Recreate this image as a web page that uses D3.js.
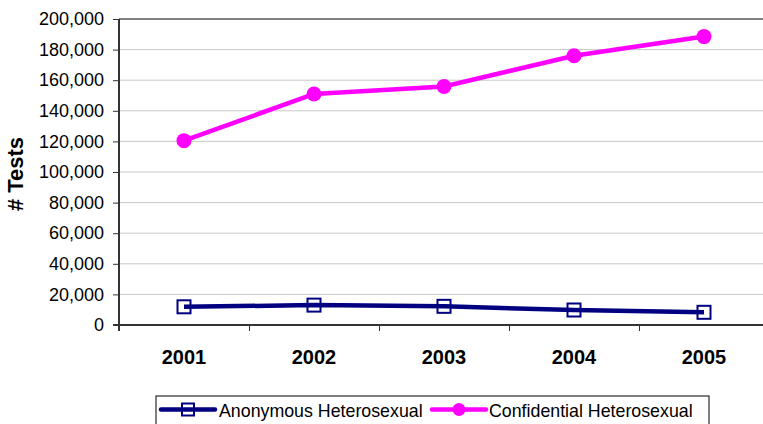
<!DOCTYPE html>
<html><head><meta charset="utf-8">
<script src="https://cdn.jsdelivr.net/npm/d3@7"></script>
<style>body{margin:0;background:#fff}svg{display:block;font-family:Arial,"Liberation Sans",sans-serif}</style>
</head><body><svg id="c" width="763" height="424"></svg>
<script>
const years = ["2001","2002","2003","2004","2005"];
const anonymous = [11900, 13000, 12200, 9800, 8300];
const confidential = [120500, 151000, 155900, 176000, 188500];
const yTicks = [0,20000,40000,60000,80000,100000,120000,140000,160000,180000,200000];
const seriesNames = ["Anonymous Heterosexual","Confidential Heterosexual"];

const FONT = "Arial,'Liberation Sans',sans-serif";
const svg = d3.select("#c");
const L=119, R=769, T=19, B=325;
const x = d3.scaleBand().domain(years).range([L,R]);
const y = d3.scaleLinear().domain([0,200000]).range([B,T]);
const cx = d => x(d)+x.bandwidth()/2;

// gridlines
svg.append("g").selectAll("line").data(yTicks.filter(v=>v>0)).join("line")
  .attr("x1",L).attr("x2",R).attr("y1",d=>y(d)).attr("y2",d=>y(d))
  .attr("stroke",d=>d===200000?"#808080":"#c8c8c8").attr("stroke-width",d=>d===200000?2:1);

// y axis
const ya = svg.append("g").attr("transform",`translate(${L},0)`)
  .call(d3.axisLeft(y).tickValues(yTicks).tickFormat(d3.format(",")).tickSize(6).tickPadding(9));
ya.select(".domain").remove();
ya.selectAll(".tick line").attr("stroke","#333");
ya.selectAll("text").attr("font-size",18).attr("fill","#000").attr("font-family",FONT);

// x axis
const xa = svg.append("g").attr("transform",`translate(0,${B})`)
  .call(d3.axisBottom(x).tickSize(0));
xa.select(".domain").remove();
xa.selectAll(".tick line").remove();
xa.selectAll("text").attr("y",39).attr("dy",0).attr("font-size",20).attr("font-weight","bold").attr("fill","#000").attr("font-family",FONT);
// category boundary ticks
svg.append("g").selectAll("line").data(years.slice(1)).join("line")
  .attr("x1",d=>Math.round(x(d))+0.5).attr("x2",d=>Math.round(x(d))+0.5).attr("y1",B).attr("y2",B+6)
  .attr("stroke","#333");

// axis lines
svg.append("line").attr("x1",L).attr("x2",L).attr("y1",T).attr("y2",B+6).attr("stroke","#333").attr("stroke-width",2);
svg.append("line").attr("x1",L-6).attr("x2",R).attr("y1",B).attr("y2",B).attr("stroke","#333").attr("stroke-width",2);

// y title
svg.append("text").attr("transform",`translate(23,${174}) rotate(-90)`)
  .attr("text-anchor","middle").attr("font-size",22).attr("font-weight","bold").attr("font-family",FONT).text("# Tests");

const line = d3.line().x((d,i)=>cx(years[i])).y(d=>y(d));
// confidential
svg.append("path").datum(confidential).attr("d",line).attr("fill","none").attr("stroke","#ff00ff").attr("stroke-width",4.5);
svg.append("g").selectAll("circle").data(confidential).join("circle")
  .attr("cx",(d,i)=>cx(years[i])).attr("cy",d=>y(d)).attr("r",7.5).attr("fill","#ff00ff");
// anonymous
svg.append("path").datum(anonymous).attr("d",line).attr("fill","none").attr("stroke","#000080").attr("stroke-width",4.5);
svg.append("g").selectAll("rect").data(anonymous).join("rect")
  .attr("x",(d,i)=>cx(years[i])-6.5).attr("y",d=>y(d)-6.5).attr("width",13).attr("height",13)
  .attr("fill","none").attr("stroke","#000080").attr("stroke-width",2);

// legend
const lg = svg.append("g");
lg.append("rect").attr("x",156).attr("y",396).attr("width",553).attr("height",40).attr("fill","#fff").attr("stroke","#000").attr("stroke-width",1);
const items = [
  {name:seriesNames[0], x1:161, x2:215, tx:219, color:"#000080", m:"sq"},
  {name:seriesNames[1], x1:432, x2:486, tx:489, color:"#ff00ff", m:"ci"}
];
items.forEach(it=>{
  const my=409.5;
  lg.append("line").attr("x1",it.x1).attr("x2",it.x2).attr("y1",my).attr("y2",my).attr("stroke",it.color).attr("stroke-width",4.5).attr("stroke-linecap","round");
  const mx=(it.x1+it.x2)/2;
  if(it.m==="sq") lg.append("rect").attr("x",mx-6).attr("y",my-6).attr("width",12).attr("height",12).attr("fill","none").attr("stroke",it.color).attr("stroke-width",2);
  else lg.append("circle").attr("cx",mx).attr("cy",my).attr("r",6.5).attr("fill",it.color);
  lg.append("text").attr("x",it.tx).attr("y",416.5).attr("font-size",17.8).attr("font-family",FONT).attr("fill","#000").text(it.name);
});
</script></body></html>
